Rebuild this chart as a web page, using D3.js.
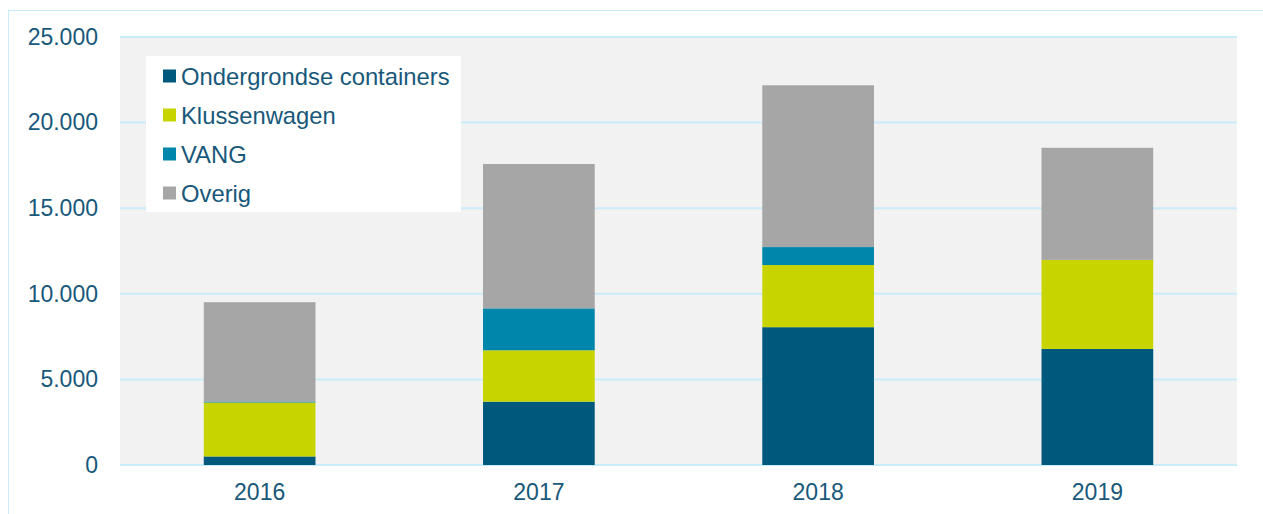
<!DOCTYPE html>
<html>
<head>
<meta charset="utf-8">
<script src="https://cdn.jsdelivr.net/npm/d3@7"></script>
<style>
  body { margin: 0; background: #ffffff; }
  svg { display: block; font-family: "Liberation Sans", Arial, sans-serif; }
</style>
</head>
<body>
<svg id="chart" width="1263" height="514"></svg>
<script>
// data
var years = ["2016", "2017", "2018", "2019"];
var seriesNames = ["Ondergrondse containers", "Klussenwagen", "VANG", "Overig"];
var ondergrondse = [500, 3700, 8050, 6780];
var klussenwagen = [3150, 3000, 3630, 5200];
var vang = [60, 2450, 1050, 0];
var overig = [5800, 8430, 9450, 6550];
var yTicks = [0, 5000, 10000, 15000, 20000, 25000];
var colors = ["#00587c", "#c8d400", "#0086ab", "#a6a6a6"];

var rows = years.map(function (y, i) {
    return {year: y, "Ondergrondse containers": ondergrondse[i], "Klussenwagen": klussenwagen[i],
        "VANG": vang[i], "Overig": overig[i]};
});

var svg = d3.select("#chart");
var margin = {top: 37, right: 26, bottom: 49, left: 120},
    width = 1263 - margin.left - margin.right,
    height = 514 - margin.top - margin.bottom;
var textColor = "#18587a";

// outer frame
svg.append("rect")
    .attr("x", 8.5).attr("y", 10.5)
    .attr("width", 1263).attr("height", 520)
    .attr("fill", "none").attr("stroke", "#c9ecfb").attr("stroke-width", 1);

var g = svg.append("g").attr("transform", "translate(" + margin.left + "," + margin.top + ")");

var x = d3.scaleBand().domain(years).range([0, width]).paddingInner(0.6).paddingOuter(0.3);
var y = d3.scaleLinear().domain([0, 25000]).range([height, 0]);

g.append("rect").attr("width", width).attr("height", height).attr("fill", "#f2f2f2");

// gridlines
g.selectAll(".grid").data(yTicks).enter().append("line")
    .attr("class", "grid")
    .attr("x1", 0).attr("x2", width)
    .attr("y1", function (d) { return y(d); })
    .attr("y2", function (d) { return y(d); })
    .attr("stroke", "#c9ecfb").attr("stroke-width", 2);

var stack = d3.stack().keys(seriesNames)(rows);

g.selectAll(".layer").data(stack).enter().append("g")
    .attr("class", "layer")
    .attr("fill", function (d, i) { return colors[i]; })
    .selectAll("rect").data(function (d) { return d; }).enter().append("rect")
    .attr("x", function (d) { return x(d.data.year); })
    .attr("width", x.bandwidth())
    .attr("y", function (d) { return y(d[1]); })
    .attr("height", function (d) { return y(d[0]) - y(d[1]); });

// y axis labels
var yAxis = d3.axisLeft(y).tickValues(yTicks).tickSize(0).tickPadding(22)
    .tickFormat(function (d) { return d === 0 ? "0" : d3.format(",")(d).replace(",", "."); });
var ya = g.append("g").call(yAxis);
ya.select(".domain").remove();
ya.selectAll("text").attr("font-size", "23px").attr("fill", textColor)
    .attr("font-family", "Liberation Sans, Arial, sans-serif");

// x axis labels
var xAxis = d3.axisBottom(x).tickSize(0).tickPadding(19);
var xa = g.append("g").attr("transform", "translate(0," + height + ")").call(xAxis);
xa.select(".domain").remove();
xa.selectAll("text").attr("font-size", "23px").attr("fill", textColor)
    .attr("font-family", "Liberation Sans, Arial, sans-serif");

// legend
var legend = svg.append("g").attr("transform", "translate(146,56)");
legend.append("rect").attr("width", 315).attr("height", 156).attr("fill", "#ffffff");
var items = legend.selectAll(".item").data(seriesNames).enter().append("g")
    .attr("class", "item")
    .attr("transform", function (d, i) { return "translate(17," + (20 + i * 39) + ")"; });
items.append("rect").attr("x", 0).attr("y", -6.5).attr("width", 13).attr("height", 13)
    .attr("fill", function (d, i) { return colors[i]; });
items.append("text").attr("x", 18).attr("y", 0).attr("dy", "0.36em")
    .attr("font-size", "23.8px").attr("fill", textColor)
    .text(function (d) { return d; });
</script>
</body>
</html>
